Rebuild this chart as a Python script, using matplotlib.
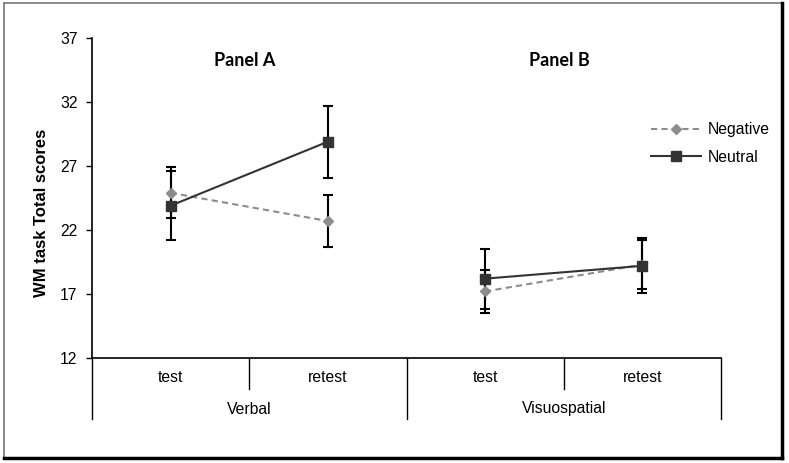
import matplotlib
matplotlib.use("Agg")
import matplotlib.pyplot as plt
from matplotlib.lines import Line2D
from matplotlib.transforms import blended_transform_factory

plt.rcParams['font.family'] = ['Liberation Sans', 'DejaVu Sans']

groups = ["Verbal", "Visuospatial"]
sessions = ["test", "retest"]
tick_labels = ["test", "retest", "test", "retest"]
negative_mean = [24.9, 22.7, 17.2, 19.3]
negative_err = [2.0, 2.05, 1.65, 1.9]
neutral_mean = [23.9, 28.9, 18.2, 19.2]
neutral_err = [2.7, 2.8, 2.35, 2.15]
yticks = [12, 17, 22, 27, 32, 37]
panel_titles = ["Panel A", "Panel B"]

W, H = 789, 463
fig = plt.figure(figsize=(W / 100, H / 100), dpi=100)
L, R, T, B = 92, 721, 38, 358
ax = fig.add_axes([L / W, (H - B) / H, (R - L) / W, (B - T) / H])

neg_c = "#8c8c8c"
neu_c = "#333333"
fs = 11.3

for g in range(len(groups)):
    xs = [2 * g, 2 * g + 1]
    nm = negative_mean[2 * g:2 * g + 2]
    ne = negative_err[2 * g:2 * g + 2]
    um = neutral_mean[2 * g:2 * g + 2]
    ue = neutral_err[2 * g:2 * g + 2]
    ax.errorbar(xs, nm, yerr=ne, fmt='none', ecolor='black', elinewidth=1.5,
                capsize=3.3, capthick=1.5, zorder=2)
    ax.errorbar(xs, um, yerr=ue, fmt='none', ecolor='black', elinewidth=1.5,
                capsize=3.3, capthick=1.5, zorder=2)
    ax.plot(xs, nm, color=neg_c, lw=1.5, ls=(0, (3, 2)), marker='D', ms=5.5,
            mfc=neg_c, mec=neg_c, zorder=3, label="Negative" if g == 0 else None)
    ax.plot(xs, um, color=neu_c, lw=1.5, ls='-', marker='s', ms=7.5,
            mfc=neu_c, mec=neu_c, zorder=4, label="Neutral" if g == 0 else None)

ax.set_xlim(-0.5, 3.5)
ax.set_ylim(12, 37)
ax.set_yticks(yticks)
ax.set_yticklabels([str(v) for v in yticks], fontsize=fs)
ax.set_xticks([])
ax.tick_params(axis='y', direction='out', length=4.5, width=1, pad=6)
for s in ['top', 'right']:
    ax.spines[s].set_visible(False)
for s in ['left', 'bottom']:
    ax.spines[s].set_linewidth(1.2)
    ax.spines[s].set_color('black')

# Two-level category axis
tr = blended_transform_factory(ax.transData, ax.transAxes)
ph = B - T
inner_y = -31 / ph
outer_y = -61 / ph
for i in range(1, len(tick_labels)):
    xb = i - 0.5
    yb = outer_y if i % 2 == 0 else inner_y
    ax.add_line(Line2D([xb, xb], [0, yb], transform=tr, color='black', lw=1.0, clip_on=False))
for xb in [-0.5, 3.5]:
    ax.add_line(Line2D([xb, xb], [0, outer_y], transform=tr, color='black', lw=1.0, clip_on=False))
for i, lab in enumerate(tick_labels):
    ax.text(i, -19.7 / ph, lab, transform=tr, ha='center', va='center', fontsize=fs)
for g, lab in enumerate(groups):
    ax.text(2 * g + 0.5, -51 / ph, lab, transform=tr, ha='center', va='center', fontsize=fs)

# Panel titles
for g, t in enumerate(panel_titles):
    ax.text(2 * g + 0.47, (B - 60) / ph, t, transform=tr, ha='center', va='center',
            fontsize=13, fontweight='bold', family=['Lato', 'DejaVu Sans'])

fig.text(42 / W, 1 - 213 / H, "WM task Total scores", rotation=90, ha='center', va='center',
         fontsize=12, fontweight='bold')

leg = ax.legend(loc='upper left', bbox_to_anchor=(651 / W, 1 - 122 / H),
                bbox_transform=fig.transFigure, frameon=False, fontsize=fs,
                handlelength=3.2, handletextpad=0.4, labelspacing=0.8,
                borderpad=0, borderaxespad=0, numpoints=1)

# Figure frame
ftr = fig.transFigure
def px(x, y):
    return x / W, 1 - y / H
for (x0, y0, x1, y1, c, lw) in [(4, 3, 782, 3, '#777777', 1.2), (4, 3, 4, 458, '#777777', 1.2),
                                 (782, 3, 782, 458, 'black', 2.5), (4, 458, 782, 458, 'black', 2.5)]:
    a, b = px(x0, y0)
    c2, d = px(x1, y1)
    fig.add_artist(Line2D([a, c2], [b, d], transform=ftr, color=c, lw=lw))

fig.savefig("out.png", dpi=100)
